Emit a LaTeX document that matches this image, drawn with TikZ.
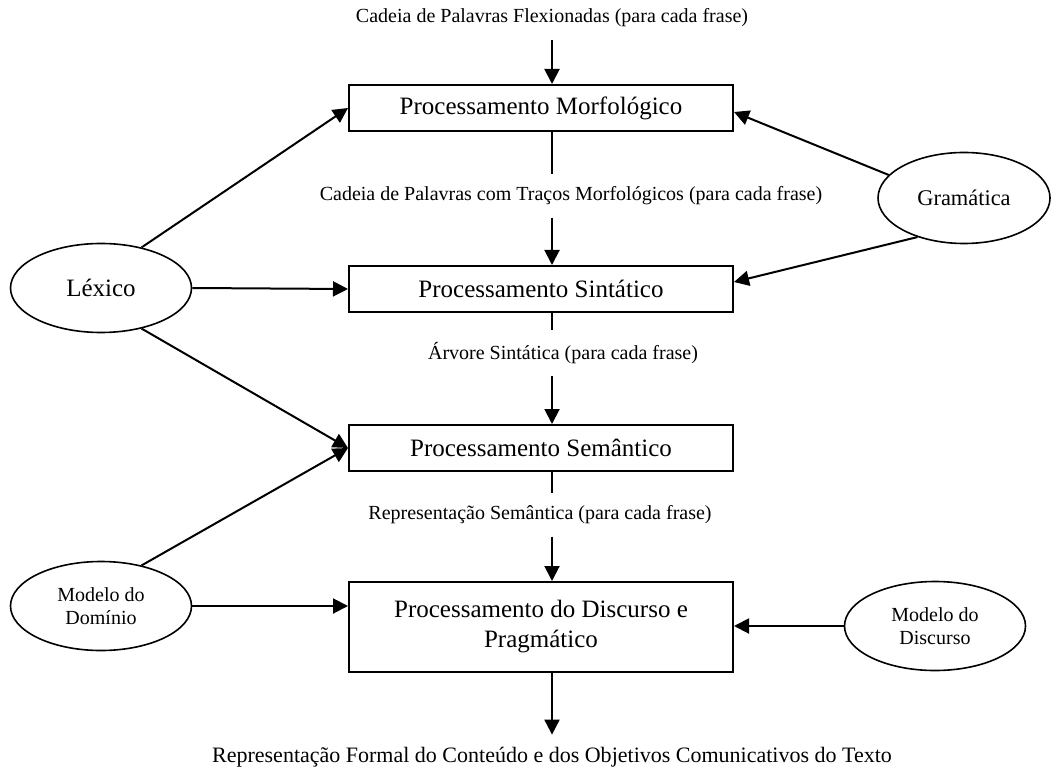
\documentclass[tikz,border=0pt]{standalone}
\usepackage{fontspec}
\setmainfont{Liberation Serif}
\usetikzlibrary{arrows.meta,shapes.geometric}
\begin{document}
\begin{tikzpicture}[
        x=0.5pt, y=-0.5pt,
        proc/.style={rectangle, draw, line width=1pt, minimum width=192pt, minimum height=23pt, inner sep=2pt, font=\fontsize{12.5}{15}\selectfont, align=center},
        src/.style={ellipse, draw, line width=0.8pt, minimum width=90.5pt, minimum height=44.5pt, inner sep=0pt, align=center},
        big/.style={font=\fontsize{12.5}{15}\selectfont},
        small/.style={font=\fontsize{10}{11.2}\selectfont},
        lbl/.style={font=\fontsize{10}{12}\selectfont, inner sep=6pt},
        arrow/.style={-{Triangle[length=7.5pt,width=7.5pt]}, line width=1pt},
        flow/.style={line width=1pt}
    ]
        \useasboundingbox (0,0) rectangle (1052,774);
        \coordinate (spine) at (552,0);

        % processing stages
        \node[proc] (morf) at (541,108) {Processamento Morfológico};
        \node[proc] (sint) at (541,289) {Processamento Sintático};
        \node[proc] (sem) at (541,448) {Processamento Semântico};
        \node[proc, minimum height=45pt] (disc) at (541,627) {Processamento do Discurso e\\Pragmático};

        % intermediate representations
        \node[lbl] (lblin) at (552,18) {Cadeia de Palavras Flexionadas (para cada frase)};
        \node[lbl] (lblmorf) at (571,196) {Cadeia de Palavras com Traços Morfológicos (para cada frase)};
        \node[lbl] (lblsint) at (563,353) {Árvore Sintática (para cada frase)};
        \node[lbl] (lblsem) at (540,515) {Representação Semântica (para cada frase)};
        \node[lbl, font=\fontsize{11}{13}\selectfont] (lblout) at (552,757) {Representação Formal do Conteúdo e dos Objetivos Comunicativos do Texto};

        % knowledge sources
        \node[src, big] (lex) at (101,288) {Léxico};
        \node[src, font=\fontsize{11.2}{13}\selectfont, minimum width=86pt, minimum height=45.5pt] (gram) at (964,198) {Gramática};
        \node[src, small] (dom) at (101,606) {Modelo do\\Domínio};
        \node[src, small] (mdisc) at (935,626) {Modelo do\\Discurso};

        % main flow
        \draw[arrow] (lblin.south -| spine) -- (morf.north -| spine);
        \draw[flow] (morf.south -| spine) -- (lblmorf.north -| spine);
        \draw[arrow] (lblmorf.south -| spine) -- (sint.north -| spine);
        \draw[flow] (sint.south -| spine) -- (lblsint.north -| spine);
        \draw[arrow] (lblsint.south -| spine) -- (sem.north -| spine);
        \draw[flow] (sem.south -| spine) -- (lblsem.north -| spine);
        \draw[arrow] (lblsem.south -| spine) -- (disc.north -| spine);
        \draw[arrow] (disc.south -| spine) -- (lblout.north -| spine);

        % sources feeding the stages
        \draw[arrow] (lex.45) -- (morf.west);
        \draw[arrow] (lex.east) -- (sint.west);
        \draw[arrow] (lex.-45) -- (sem.west);
        \draw[arrow] (dom.45) -- (sem.west);
        \draw[arrow] (dom.east) -- (dom.east -| disc.west);
        \draw[arrow] (gram.163) -- ([yshift=-2pt]morf.east);
        \draw[arrow] (gram.220) -- ([yshift=3.5pt]sint.east);
        \draw[arrow] (mdisc.west) -- (mdisc.west -| disc.east);
    \end{tikzpicture}
\end{document}
